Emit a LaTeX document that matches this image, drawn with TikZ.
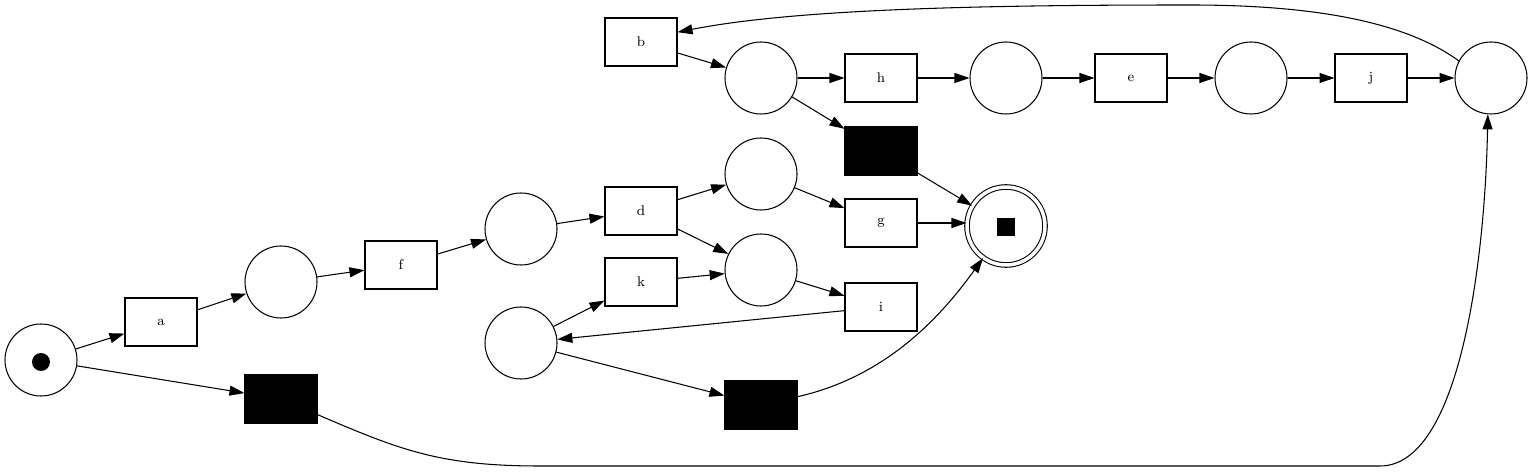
\documentclass[tikz,border=0pt]{standalone}
\usepackage{amsmath}
\usepackage{amssymb}
\usetikzlibrary{arrows.meta}

\begin{document}
\begin{tikzpicture}[x=0.02cm,y=-0.02cm]
\tikzstyle{every node}+=[inner sep=0pt]
\tikzstyle{place}=[draw,circle,minimum size=72*0.02cm,line width=0.6pt]
\tikzstyle{trans}=[draw,rectangle,minimum width=72*0.02cm,minimum height=48*0.02cm,line width=0.6pt,font=\footnotesize]
\tikzstyle{silent}=[trans,fill=black]
\tikzstyle{arc}=[-{Triangle[length=0.3cm,width=0.2cm]},line width=0.6pt]
\useasboundingbox (0,0) rectangle (1533,472);
% places
\node [place] (ps) at (41,360) {};
\fill [black] (41,362) circle (9);
\node [place] (p1) at (281,282) {};
\node [place] (p2) at (521,229) {};
\node [place] (p3) at (761,174) {};
\node [place] (p4) at (761,270) {};
\node [place] (p5) at (521,343) {};
\node [place] (p6) at (761,78) {};
\node [place] (p7) at (1006,78) {};
\node [place] (p8) at (1251,78) {};
\node [place] (p9) at (1491,78) {};
\node [place,double,double distance=3.5*0.02cm,minimum size=78*0.02cm] (pe) at (1006,226) {};
\fill [black] (997,218) rectangle (1015,236);
% transitions
\node [trans] (a) at (161,322) {a};
\node [silent] (t1) at (281,399) {};
\node [trans] (f) at (401,265) {f};
\node [trans] (d) at (641,211) {d};
\node [trans] (k) at (641,282) {k};
\node [trans] (g) at (881,223) {g};
\node [trans] (i) at (881,307) {i};
\node [silent] (t2) at (761,405) {};
\node [silent] (t3) at (881,151) {};
\node [trans] (b) at (641,42) {b};
\node [trans] (h) at (881,78) {h};
\node [trans] (e) at (1131,78) {e};
\node [trans] (j) at (1371,78) {j};
% arcs
\draw [arc] (ps) -- (a);
\draw [arc] (ps) -- (t1);
\draw [arc] (a) -- (p1);
\draw [arc] (p1) -- (f);
\draw [arc] (f) -- (p2);
\draw [arc] (p2) -- (d);
\draw [arc] (d) -- (p3);
\draw [arc] (d) -- (p4);
\draw [arc] (k) -- (p4);
\draw [arc] (p3) -- (g);
\draw [arc] (p4) -- (i);
\draw [arc] (g.east) -- (g.east -| pe.west);
\draw [arc] (i) -- (p5);
\draw [arc] (p5) -- (k);
\draw [arc] (p5) -- (t2);
\draw [arc] (t2) .. controls (880,378) and (935,325) .. (pe);
\draw [arc] (t1) .. controls (400,450) and (440,466) .. (540,466) -- (1380,466) .. controls (1460,466) and (1485,260) .. (p9.265);
\draw [arc] (p9.152) .. controls (1400,18) and (1300,5) .. (1190,5) .. controls (1000,5) and (800,8) .. (b.15);
\draw [arc] (b) -- (p6);
\draw [arc] (p6) -- (h);
\draw [arc] (p6) -- (t3);
\draw [arc] (t3) -- (pe);
\draw [arc] (h) -- (p7);
\draw [arc] (p7) -- (e);
\draw [arc] (e) -- (p8);
\draw [arc] (p8) -- (j);
\draw [arc] (j) -- (p9);
\end{tikzpicture}
\end{document}
